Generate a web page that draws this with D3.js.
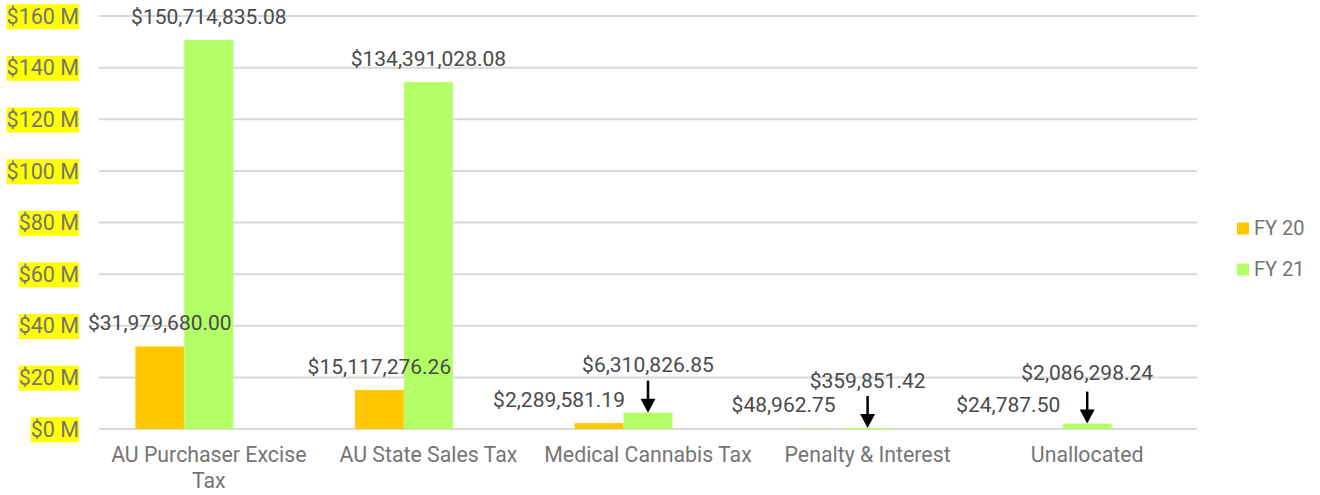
<!DOCTYPE html>
<html>
<head>
<meta charset="utf-8">
<script src="https://cdn.jsdelivr.net/npm/d3@7"></script>
<style>
  html, body { margin: 0; padding: 0; background: #fff; }
  svg { display: block; font-family: Roboto, "Noto Sans", sans-serif; }
</style>
</head>
<body>
<svg id="chart" width="1320" height="495"></svg>
<script>
// ---- data ----
const categories = ["AU Purchaser Excise Tax", "AU State Sales Tax", "Medical Cannabis Tax", "Penalty & Interest", "Unallocated"];
const seriesNames = ["FY 20", "FY 21"];
const fy20 = [31979680.00, 15117276.26, 2289581.19, 48962.75, 24787.50];
const fy21 = [150714835.08, 134391028.08, 6310826.85, 359851.42, 2086298.24];
const yTicks = [0, 20e6, 40e6, 60e6, 80e6, 100e6, 120e6, 140e6, 160e6];
// categories whose FY 21 bar gets an arrow annotation
const arrowCategories = ["Medical Cannabis Tax", "Penalty & Interest", "Unallocated"];

// ---- layout / style config ----
const colors = { "FY 20": "#ffc800", "FY 21": "#b3ff66" };
const margin = { left: 99, right: 123, top: 16, bottom: 66 };
const W = 1320, H = 495;
// manual label nudges [dx, dy] per series per category (as in the source chart)
const labelNudge = {
  "FY 20": [[0, 0], [0, 0], [-40, 0], [-35, 0], [-30, 0]],
  "FY 21": [[0, 0], [0, 0], [0, -24], [0, -24], [0, -27]]
};

const svg = d3.select("#chart");

const y = d3.scaleLinear().domain([0, 160e6]).range([H - margin.bottom, margin.top]);
const x0 = d3.scaleBand().domain(categories).range([margin.left, W - margin.right]).padding(0);
const groupFrac = 0.669;
const bw = x0.bandwidth();
const x1 = d3.scaleBand().domain([...seriesNames, "__empty"])
  .range([bw * (1 - groupFrac) / 2, bw * (1 + groupFrac) / 2]).padding(0);

// gridlines
svg.append("g").selectAll("line").data(yTicks).join("line")
  .attr("x1", margin.left).attr("x2", W - margin.right)
  .attr("y1", d => y(d)).attr("y2", d => y(d))
  .attr("stroke", "#d9d9d9").attr("stroke-width", 2);

// y tick labels with yellow highlight
const yt = svg.append("g");
yTicks.forEach(t => {
  const g = yt.append("g");
  const txt = g.append("text")
    .attr("x", 79).attr("y", y(t)).attr("dy", "0.36em")
    .attr("text-anchor", "end").attr("font-size", 21.5).attr("fill", "#757575")
    .text("$" + (t / 1e6) + " M");
  const bb = txt.node().getBBox();
  g.insert("rect", "text").attr("x", bb.x).attr("y", bb.y + 0.5)
    .attr("width", bb.width).attr("height", bb.height).attr("fill", "#ffff00");
});

// bars
const seriesData = { "FY 20": fy20, "FY 21": fy21 };
const barsG = svg.append("g");
seriesNames.forEach(s => {
  barsG.selectAll(null).data(categories).join("rect")
    .attr("x", c => x0(c) + x1(s))
    .attr("width", x1.bandwidth())
    .attr("y", (c, i) => y(seriesData[s][i]))
    .attr("height", (c, i) => y(0) - y(seriesData[s][i]))
    .attr("fill", colors[s]);
});

// value labels
const fmt = v => "$" + d3.format(",.2f")(v);
const labelsG = svg.append("g");
seriesNames.forEach(s => {
  labelsG.selectAll(null).data(categories).join("text")
    .attr("x", (c, i) => x0(c) + x1(s) + x1.bandwidth() / 2 + labelNudge[s][i][0])
    .attr("y", (c, i) => y(seriesData[s][i]) - 24 + labelNudge[s][i][1])
    .attr("dy", "0.36em")
    .attr("text-anchor", "middle").attr("font-size", 21).attr("fill", "#4a4a4a")
    .text((c, i) => fmt(seriesData[s][i]));
});

// arrows
const arrowG = svg.append("g");
arrowCategories.forEach(c => {
  const i = categories.indexOf(c);
  const cx = x0(c) + x1("FY 21") + x1.bandwidth() / 2;
  const yEnd = y(fy21[i]);
  const yStart = yEnd - 32;
  arrowG.append("line").attr("x1", cx).attr("x2", cx)
    .attr("y1", yStart).attr("y2", yEnd - 10)
    .attr("stroke", "#000").attr("stroke-width", 2.5);
  arrowG.append("path")
    .attr("d", `M${cx - 7.5},${yEnd - 14} L${cx + 7.5},${yEnd - 14} L${cx},${yEnd} Z`)
    .attr("fill", "#000");
});

// category labels (wrapped)
const catG = svg.append("g");
categories.forEach(c => {
  const cx = x0(c) + bw / 2;
  const t = catG.append("text").attr("x", cx).attr("y", 462)
    .attr("text-anchor", "middle").attr("font-size", 21.3).attr("fill", "#757575");
  const words = c.split(" ");
  let line = [];
  let tspan = t.append("tspan").attr("x", cx).attr("y", 462);
  let lineNo = 0;
  words.forEach(w => {
    line.push(w);
    tspan.text(line.join(" "));
    if (tspan.node().getComputedTextLength() > bw - 4 && line.length > 1) {
      line.pop();
      tspan.text(line.join(" "));
      line = [w];
      lineNo++;
      tspan = t.append("tspan").attr("x", cx).attr("y", 462 + lineNo * 26).text(w);
    }
  });
});

// legend
const lg = svg.append("g");
seriesNames.forEach((s, i) => {
  const cy = 228 + i * 41;
  lg.append("rect").attr("x", 1237).attr("y", cy - 5.5).attr("width", 12).attr("height", 12)
    .attr("fill", colors[s]);
  lg.append("text").attr("x", 1254).attr("y", cy).attr("dy", "0.36em")
    .attr("font-size", 20).attr("fill", "#757575").text(s);
});
</script>
</body>
</html>
